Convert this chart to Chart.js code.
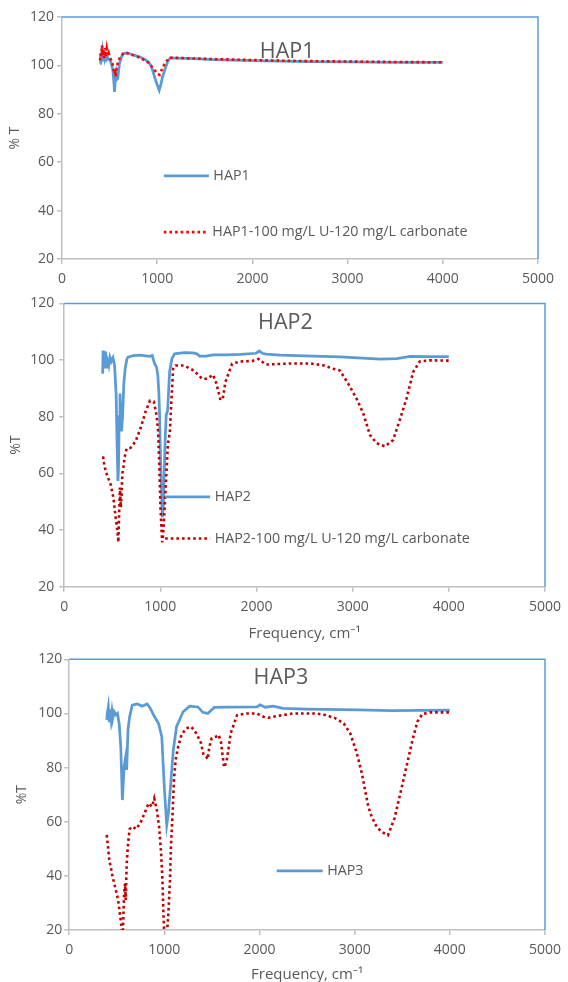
<!DOCTYPE html>
<html>
<head>
<meta charset="utf-8">
<script src="https://cdn.jsdelivr.net/npm/chart.js@4.4.0/dist/chart.umd.min.js"></script>
<style>
  html, body { margin: 0; padding: 0; background: #fff; overflow: hidden; }
  body { width: 568px; height: 982px; position: relative; }
  canvas { position: absolute; left: 0; }
</style>
</head>
<body>
<canvas id="hap1" width="568" height="300" style="top:0px;width:568px;height:300px"></canvas>
<canvas id="hap2" width="568" height="360" style="top:290px;width:568px;height:360px"></canvas>
<canvas id="hap3" width="568" height="350" style="top:645px;width:568px;height:350px"></canvas>
<script>
// Espectros FTIR: frecuencia (cm-1) contra % de transmitancia
const hap1Freq = [400, 405, 410, 415, 420, 425, 432, 440, 448, 455, 465, 475, 490, 506, 520, 534, 545, 552, 560, 569, 577, 586, 595, 604, 625, 646, 681, 750, 821, 870, 909, 940, 962, 990, 1021, 1040, 1056, 1084, 1110, 1136, 1200, 1381, 1600, 2000, 2289, 2600, 3000, 3500, 4000];
const hap1T = [100.8, 104.5, 102, 106.3, 103, 105.5, 102.5, 104.8, 102.8, 104, 102.6, 103.6, 102.4, 102.1, 100.5, 98, 93, 89, 94, 96.6, 94.2, 94.6, 98, 100.8, 103.5, 104.9, 105.2, 104.3, 103.5, 102.5, 101.4, 99.5, 96.6, 93, 89.7, 92.5, 95.2, 98.7, 101.5, 103.1, 103, 102.8, 102.4, 102, 101.8, 101.6, 101.5, 101.3, 101.2];

const hap1uFreq = [400, 405, 410, 420, 428, 435, 442, 450, 458, 470, 480, 490, 500, 515, 530, 540, 550, 557, 565, 575, 590, 610, 650, 700, 800, 900, 960, 1000, 1025, 1040, 1060, 1090, 1130, 1200, 1500, 2000, 2500, 3000, 3500, 4000];
const hap1uT = [102.1, 105, 103.5, 108.3, 104, 106.5, 103, 107.2, 103.5, 106.9, 104.2, 105.2, 103.6, 102.2, 100.8, 98.5, 96.5, 97, 95.3, 99.5, 101.4, 103.5, 105.2, 104.9, 103.5, 101.4, 98.7, 96.6, 96.1, 97.5, 99.4, 101.4, 103.2, 103.1, 102.7, 102.2, 101.8, 101.6, 101.4, 101.3];

const hap2Freq = [400, 404, 410, 415, 420, 425, 432, 440, 448, 455, 465, 475, 490, 507, 524, 540, 550, 559, 565, 572, 580, 588, 596, 607, 620, 634, 652, 663, 720, 784, 850, 888, 915, 940, 960, 974, 985, 992, 1000, 1009, 1020, 1030, 1040, 1050, 1061, 1075, 1096, 1120, 1148, 1250, 1338, 1380, 1407, 1476, 1550, 1683, 1830, 1995, 2030, 2060, 2100, 2249, 2500, 2870, 3100, 3285, 3459, 3597, 3800, 4000];
const hap2T = [95.2, 103.4, 98, 102.5, 97, 103, 99, 101.5, 97.5, 100.5, 98.5, 101, 99.5, 100.8, 98.1, 88, 70, 57.3, 62, 80, 88.2, 80, 74.8, 80, 91.7, 96.9, 100.4, 101, 101.6, 101.7, 101.5, 101.3, 101.6, 98.7, 97.5, 94.6, 88, 80.6, 68, 57.3, 44.5, 48, 60, 72, 80.6, 82, 95.8, 100.5, 102.2, 102.6, 102.5, 102.2, 101.4, 101.4, 101.8, 101.8, 102, 102.4, 103.2, 102.4, 102.1, 101.7, 101.5, 101.1, 100.7, 100.3, 100.5, 101.3, 101.2, 101.2];

const hap2uFreq = [404, 414, 430, 449, 483, 511, 535, 553, 563, 572, 580, 588, 596, 605, 615, 628, 649, 690, 742, 794, 846, 891, 932, 960, 977, 991, 1001, 1019, 1028, 1043, 1064, 1078, 1099, 1116, 1133, 1157, 1244, 1348, 1434, 1486, 1548, 1583, 1625, 1649, 1677, 1746, 1830, 1960, 2020, 2097, 2360, 2560, 2700, 2800, 2867, 2953, 3040, 3110, 3179, 3248, 3335, 3421, 3490, 3560, 3629, 3698, 3800, 4000];
const hap2uT = [66, 63.7, 61, 59.1, 56.1, 51.5, 44.5, 39.8, 35.7, 47, 55, 48, 52, 60, 62, 65.6, 68.7, 69, 71.3, 75.9, 81.8, 85.6, 85.3, 80.6, 74.8, 60.8, 48, 35.7, 38, 46.8, 60.8, 70.1, 74.8, 86.4, 96.9, 98.1, 98.1, 96.3, 93.4, 93.4, 94.8, 91.7, 85.9, 86.4, 92.3, 98.7, 99.5, 99.7, 100.4, 98.4, 98.8, 98.8, 98.1, 96.9, 96.3, 91.7, 86.4, 81.2, 73.6, 70.7, 69.5, 71.8, 78.9, 86.4, 95.8, 99.5, 99.9, 99.8];

const hap3Freq = [394, 402, 411, 421, 430, 440, 450, 460, 473, 490, 507, 525, 542, 559, 577, 594, 604, 618, 635, 663, 715, 767, 818, 852, 887, 939, 973, 1001, 1025, 1042, 1070, 1094, 1128, 1197, 1266, 1352, 1404, 1456, 1525, 1662, 1973, 2006, 2060, 2144, 2248, 2500, 3040, 3385, 4000];
const hap3T = [97.6, 100.5, 102.5, 96.8, 101.5, 98, 101, 98.5, 100.6, 99.5, 100, 96.3, 87.7, 68, 80.3, 84, 79.1, 93.9, 98.8, 103.1, 103.5, 102.7, 103.5, 101.9, 99.4, 96.3, 91.4, 71.7, 58.8, 63, 75.4, 86.5, 95.1, 100.6, 102.7, 102.4, 100.4, 100, 102.2, 102.3, 102.4, 103.2, 102.3, 102.7, 101.9, 101.6, 101.3, 101, 101.2];

const hap3uFreq = [394, 404, 421, 439, 456, 490, 514, 532, 552, 563, 577, 587, 594, 604, 618, 635, 663, 704, 749, 794, 835, 870, 894, 921, 945, 966, 980, 990, 997, 1020, 1042, 1059, 1070, 1087, 1101, 1118, 1145, 1180, 1231, 1283, 1335, 1386, 1411, 1438, 1456, 1473, 1497, 1542, 1570, 1594, 1611, 1628, 1652, 1673, 1697, 1765, 1870, 1971, 2041, 2093, 2213, 2350, 2590, 2695, 2798, 2885, 2954, 3023, 3075, 3109, 3143, 3178, 3230, 3281, 3350, 3419, 3488, 3556, 3608, 3660, 3711, 3800, 4000];
const hap3uT = [55.1, 52, 45.9, 42.8, 39.7, 34.8, 31.1, 26.2, 20.6, 18, 33.5, 37.2, 31.1, 44.3, 51.7, 57.3, 58.2, 57.3, 59.6, 63.3, 66.8, 65.6, 68.6, 64.3, 58.1, 48.3, 38.4, 26.1, 20.6, 15, 26.1, 38.4, 51.7, 63.3, 75.4, 82.8, 87.7, 92.1, 94.5, 95.1, 92.7, 89, 84.7, 84, 83.1, 87.7, 90.8, 91.4, 92.1, 89.6, 84.7, 80.1, 82.1, 86.5, 92.7, 99.4, 100, 100, 98.8, 98.4, 99.2, 100, 100, 99.4, 98.2, 96.3, 92.6, 85.3, 77.9, 71.7, 65.6, 61.9, 58.2, 56.3, 55, 61.3, 71.7, 82.2, 90.2, 97, 99.8, 100.4, 100.4];

const freqTicks = [0, 1000, 2000, 3000, 4000, 5000];
const tTicks = [20, 40, 60, 80, 100, 120];

const azul = '#5b9bd5';
const gris = '#595959';
const ejeColor = '#bfbfbf';
const fuente = '"Open Sans", "Noto Sans", sans-serif';

function puntos(xs, ys) {
    return xs.map((x, i) => ({ x: x, y: ys[i] }));
}

// Marco azul arriba/derecha, título y leyenda dentro del área del gráfico
const marco = {
    id: 'marco',
    afterDraw(chart, args, opts) {
        const { ctx, chartArea: a } = chart;
        ctx.save();
        ctx.strokeStyle = azul;
        ctx.lineWidth = 1.5;
        ctx.beginPath();
        ctx.moveTo(a.left, a.top);
        ctx.lineTo(a.right, a.top);
        ctx.lineTo(a.right, a.bottom);
        ctx.stroke();

        ctx.fillStyle = gris;
        ctx.font = '21.5px ' + fuente;
        ctx.textAlign = 'center';
        ctx.textBaseline = 'middle';
        ctx.fillText(opts.titulo, a.left + a.width * opts.tx, a.top + a.height * opts.ty);

        ctx.font = '14.3px ' + fuente;
        ctx.textAlign = 'left';
        opts.leyenda.forEach(item => {
            const x = a.left + a.width * item.fx;
            const y = a.top + a.height * item.fy;
            ctx.strokeStyle = item.color;
            ctx.lineWidth = item.ancho;
            ctx.setLineDash(item.dash || []);
            ctx.beginPath();
            ctx.moveTo(x, y);
            ctx.lineTo(x + item.largo, y);
            ctx.stroke();
            ctx.setLineDash([]);
            ctx.fillText(item.texto, x + item.largo + 4.5, y);
        });
        ctx.restore();
    }
};

// Ejes comunes: 0-5000 cm-1 y 20-120 %T, sin rejilla
function ejes(c) {
    return {
        x: {
            type: 'linear', min: 0, max: 5000,
            afterBuildTicks: s => { s.ticks = freqTicks.map(v => ({ value: v })); },
            afterFit: s => { s.height = c.altoX; },
            grid: { drawOnChartArea: false, tickLength: 5, color: ejeColor, lineWidth: 1.5 },
            border: { color: ejeColor, width: 1.5 },
            ticks: {
                color: gris, font: { family: fuente, size: 14 }, padding: 7, maxRotation: 0,
                callback: v => String(v)
            },
            title: {
                display: c.tituloX, text: 'Frequency, cm⁻¹', color: gris,
                font: { family: fuente, size: 15 }, padding: { top: 0, bottom: c.padX }
            }
        },
        y: {
            min: 20, max: 120,
            afterBuildTicks: s => { s.ticks = tTicks.map(v => ({ value: v })); },
            afterFit: s => { s.width = c.anchoY; },
            grid: { drawOnChartArea: false, tickLength: 5, color: ejeColor, lineWidth: 1.5 },
            border: { color: ejeColor, width: 1.5 },
            ticks: {
                color: gris, font: { family: fuente, size: 14 }, padding: c.padTicksY,
                callback: v => String(v)
            },
            title: {
                display: true, text: c.tituloY, color: gris,
                font: { family: fuente, size: 14 }, padding: { top: c.padY, bottom: 0 }
            }
        }
    };
}

function serie(xs, ys, color, punteada) {
    return {
        data: puntos(xs, ys),
        borderColor: color,
        borderWidth: punteada ? 2.6 : 2.75,
        borderDash: punteada ? [2.6, 3] : [],
        pointRadius: 0,
        tension: 0,
        order: punteada ? 0 : 1
    };
}

function grafico(id, datasets, c, marcoOpts) {
    return new Chart(document.getElementById(id), {
        type: 'line',
        data: { datasets: datasets },
        options: {
            responsive: false,
            animation: false,
            events: [],
            layout: { padding: { left: 0, top: c.arriba, right: c.derecha, bottom: 0 } },
            scales: ejes(c),
            plugins: { legend: { display: false }, tooltip: { enabled: false }, marco: marcoOpts }
        },
        plugins: [marco]
    });
}

grafico('hap1', [
    serie(hap1Freq, hap1T, azul, false),
    serie(hap1uFreq, hap1uT, '#ff0000', true)
], { altoX: 41, anchoY: 62, arriba: 17, derecha: 30, tituloX: false, padX: 0, padTicksY: 3, tituloY: '% T', padY: 6.5 }, {
    titulo: 'HAP1', tx: 0.473, ty: 0.146,
    leyenda: [
        { texto: 'HAP1', color: azul, ancho: 2.75, largo: 45, fx: 0.214, fy: 0.657 },
        { texto: 'HAP1-100 mg/L U-120 mg/L carbonate', color: '#ff0000', ancho: 2.6, dash: [2.6, 3], largo: 44, fx: 0.214, fy: 0.889 }
    ]
});

grafico('hap2', [
    serie(hap2Freq, hap2T, azul, false),
    serie(hap2uFreq, hap2uT, '#c00000', true)
], { altoX: 63.3, anchoY: 64.2, arriba: 10.7, derecha: 22.8, tituloX: true, padX: 7.5, padTicksY: 5, tituloY: '%T', padY: 8 }, {
    titulo: 'HAP2', tx: 0.46, ty: 0.07,
    leyenda: [
        { texto: 'HAP2', color: azul, ancho: 2.75, largo: 45, fx: 0.21, fy: 0.683 },
        { texto: 'HAP2-100 mg/L U-120 mg/L carbonate', color: '#c00000', ancho: 2.6, dash: [2.6, 3], largo: 45, fx: 0.21, fy: 0.83 }
    ]
});

grafico('hap3', [
    serie(hap3Freq, hap3T, azul, false),
    serie(hap3uFreq, hap3uT, '#c00000', true)
], { altoX: 65, anchoY: 69.2, arriba: 14.3, derecha: 15, tituloX: true, padX: 11, padTicksY: 2, tituloY: '%T', padY: 13.5 }, {
    titulo: 'HAP3', tx: 0.445, ty: 0.069,
    leyenda: [
        { texto: 'HAP3', color: azul, ancho: 2.75, largo: 46, fx: 0.436, fy: 0.782 }
    ]
});
</script>
</body>
</html>
